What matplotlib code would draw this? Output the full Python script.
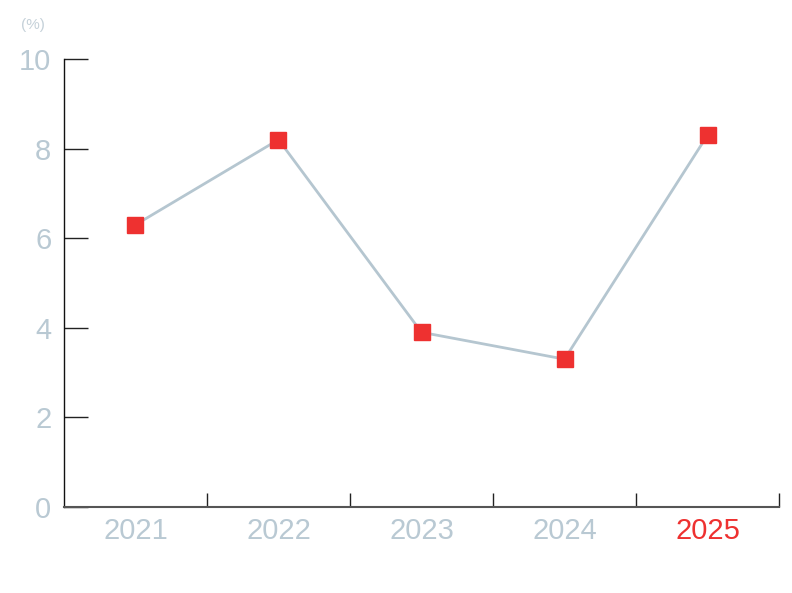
import matplotlib.pyplot as plt
import numpy as np

years = ["2021", "2022", "2023", "2024", "2025"]
values = [6.3, 8.2, 3.9, 3.3, 8.3]
yticks = [0, 2, 4, 6, 8, 10]

label_color = "#b9c9d3"
line_color = "#b5c6d0"
red = "#ee3130"

plt.rcParams["font.family"] = ["Liberation Sans", "DejaVu Sans"]

fig = plt.figure(figsize=(7.92, 5.93), dpi=100)
ax = fig.add_axes([0.0808, 0.145, 0.9028, 0.7555])

x = np.arange(len(years))
ax.plot(x, values, color=line_color, linewidth=2, zorder=2)
ax.plot(x, values, linestyle="none", marker="s", markersize=11,
        color=red, markeredgecolor=red, zorder=3)

ax.set_xlim(-0.5, len(years) - 0.5)
ax.set_ylim(0, 10)

# category boundaries as ticks, labels in the middle
ax.set_xticks(np.arange(len(years)) + 0.5)
ax.set_xticklabels([])
ax.set_xticks(x, minor=True)
ax.set_xticklabels(years, minor=True)
ax.tick_params(axis="x", which="major", direction="in", length=10, width=1, color="#222222")
ax.tick_params(axis="x", which="minor", length=0, pad=7, labelsize=21, labelcolor=label_color)
for lbl in ax.get_xticklabels(minor=True):
    if lbl.get_text() == "2025":
        lbl.set_color(red)

ax.set_yticks(yticks)
ax.set_yticklabels([str(t) for t in yticks])
ax.tick_params(axis="y", direction="in", length=17, width=1, color="#222222",
               pad=9, labelsize=21, labelcolor=label_color)

for side in ["top", "right"]:
    ax.spines[side].set_visible(False)
ax.spines["left"].set_color("#111111")
ax.spines["bottom"].set_color("#555555")
ax.spines["left"].set_linewidth(1)
ax.spines["bottom"].set_linewidth(1.5)

fig.text(0.027, 0.958, "(%)", fontsize=11, color="#c5d1d9", va="center", ha="left")

fig.savefig("out.png", dpi=100)
